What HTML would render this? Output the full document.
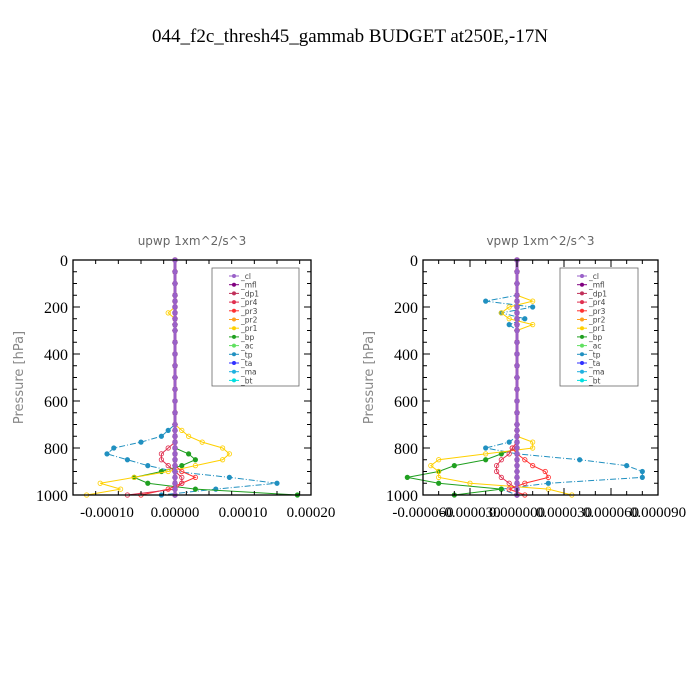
<!DOCTYPE html>
<html><head><meta charset="utf-8"><style>
body{margin:0;background:#fff;width:700px;height:700px;overflow:hidden}
svg{display:block}
</style></head><body>
<svg id="chart" width="700" height="700" viewBox="0 0 700 700" xmlns="http://www.w3.org/2000/svg">
<text x="350" y="42" text-anchor="middle" font-family="Liberation Serif, serif" font-size="19" fill="#000">044_f2c_thresh45_gammab  BUDGET at250E,-17N</text>
</svg>
<script>
// pressure levels (hPa)
const levels = [0,50,100,150,175,200,225,250,275,300,350,400,450,500,550,600,650,700,725,750,775,800,825,850,875,900,925,950,975,1000];
const seriesNames = ["_cl","_mfl","_dp1","_pr4","_pr3","_pr2","_pr1","_bp","_ac","_tp","_ta","_ma","_bt"];
const xTicksU = [-0.0001,0,0.0001,0.0002];
const xTickLabelsU = ["-0.00010","0.00000","0.00010","0.00020"];
const xTicksV = [-0.00006,-0.00003,0,0.00003,0.00006,0.00009];
const xTickLabelsV = ["-0.000060","-0.000030","0.000000","0.000030","0.000060","0.000090"];
const yTicks = [0,200,400,600,800,1000];
// upwp values (x1e-5), indexed by levels
const uTp  = [0,0,0,0,0,0,0,0,0,0,0,0,0,0,0,0,0,0,-1,-2,-5,-9,-10,-7,-4,0,8,15,6,-2];
const uPr1 = [0,0,0,0,0,0,-1,0,0,0,0,0,0,0,0,0,0,0,1,2,4,7,8,7,3,-1,-6,-11,-8,-13];
const uBp  = [0,0,0,0,0,0,0,0,0,0,0,0,0,0,0,0,0,0,0,0,0,0,2,3,1,-2,-6,-4,3,18];
const uPr4 = [0,0,0,0,0,0,0,0,0,0,0,0,0,0,0,0,0,0,0,0,0,-1,-2,-2,-1,0,1,1,0,-7];
const uPr3 = [0,0,0,0,0,0,0,0,0,0,0,0,0,0,0,0,0,0,0,0,0,0,0,0,0,1,3,1,-1,-5];
// vpwp values (x1e-5)
const vTp  = [0,0,0,0,-2,1,-1,0.5,-0.5,0,0,0,0,0,0,0,0,0,0,0,-0.5,-2,0,4,7,8,8,2,-1,0];
const vPr1 = [0,0,0,0,1,-0.5,-1,-0.5,1,0,0,0,0,0,0,0,0,0,0,0,1,1,-2,-5,-5.5,-5,-5,-3,2,3.5];
const vBp  = [0,0,0,0,0,0,0,0,0,0,0,0,0,0,0,0,0,0,0,0,0,0,-1,-2,-4,-5,-7,-5,-1,-4];
const vPr4 = [0,0,0,0,0,0,0,0,0,0,0,0,0,0,0,0,0,0,0,0,0,-0.3,-0.5,-1,-1.3,-1.3,-1,-0.5,0,0];
const vPr3 = [0,0,0,0,0,0,0,0,0,0,0,0,0,0,0,0,0,0,0,0,0,-0.3,0,0.5,1,1.8,2,0.5,-0.5,0.5];
const zeros = levels.map(()=>0);

const colors = {"_cl":"#9a60c8","_mfl":"#800080","_dp1":"#c0305a","_pr4":"#e03050","_pr3":"#ff3030","_pr2":"#ffa020","_pr1":"#ffd000","_bp":"#20a020","_ac":"#60e060","_tp":"#2090c0","_ta":"#3030ff","_ma":"#20b0e0","_bt":"#00e0e0"};
const NS="http://www.w3.org/2000/svg";
const svg=document.getElementById('chart');
function mk(tag,attrs,parent){const e=document.createElementNS(NS,tag);for(const k in attrs)e.setAttribute(k,attrs[k]);(parent||svg).appendChild(e);return e;}

function panel(cfg){
  const g=mk('g',{});
  
  
  const L=cfg.x0,R=cfg.x1,T=260,B=495;
  const xs=v=>L+(v-cfg.dmin)/(cfg.dmax-cfg.dmin)*(R-L);
  const ys=p=>T+p/1000*(B-T);
  const t=mk('text',{x:(L+R)/2,y:245,'text-anchor':'middle','font-family':'DejaVu Sans, sans-serif','font-size':'12',fill:'#666'},g);
  t.textContent=cfg.title;
  
  
  const yl=mk('text',{x:0,y:0,transform:`translate(${L-50},${(T+B)/2}) rotate(-90)`,'text-anchor':'middle','font-family':'DejaVu Sans, sans-serif','font-size':'13',fill:'#888'},g);
  yl.textContent='Pressure  [hPa]';
  
  
  // series
  const dat=cfg.data;
  const order=["_ma","_ta","_bt","_ac","_pr2","_tp","_bp","_pr1","_pr3","_pr4","_dp1","_mfl","_cl"];
  order.forEach(n=>{
    const vals=dat[n]||zeros;
    const pts=levels.map((p,i)=>xs(vals[i]*1e-5)+','+ys(p)).join(' ');
    const dash=(n==="_tp"||n==="_ma")?'6,2,1,2':'none';
    const pl=mk('polyline',{points:pts,fill:'none',stroke:colors[n],'stroke-width':(n==="_dp1"||n==="_cl"||n==="_mfl")?2.5:1,'stroke-dasharray':dash},g);
    
    
    levels.forEach((p,i)=>{
      const m=mk('circle',{cx:xs(vals[i]*1e-5),cy:ys(p),r:2.2,fill:(n==="_pr1"||n==="_pr4"||n==="_pr3")?'none':colors[n],stroke:colors[n],'stroke-width':0.8},g);
      
      
    });
  });
  // frame
  const fr=mk('rect',{x:L,y:T,width:R-L,height:B-T,fill:'none',stroke:'#000','stroke-width':1.3},g);
  
  
  for(let p=0;p<=1000;p+=50){
    const len=(p%200===0)?7:4;
    mk('line',{x1:L,x2:L+len,y1:ys(p),y2:ys(p),stroke:'#000'},g);
    mk('line',{x1:R,x2:R-len,y1:ys(p),y2:ys(p),stroke:'#000'},g);
  }
  yTicks.forEach(p=>{
    const tx=mk('text',{x:L-5,y:ys(p)+6,'text-anchor':'end','font-family':'Liberation Serif, serif','font-size':'16',fill:'#000'},g);
    tx.textContent=p;
    
    
  });
  const step=(cfg.ticks[1]-cfg.ticks[0])/3;
  for(let v=cfg.dmin;v<=cfg.dmax+1e-12;v+=step){
    const x=xs(v);
    const major=cfg.ticks.some(tk=>Math.abs(tk-v)<step/10);
    const len=major?7:4;
    mk('line',{x1:x,x2:x,y1:B,y2:B-len,stroke:'#000'},g);
    mk('line',{x1:x,x2:x,y1:T,y2:T+len,stroke:'#000'},g);
  }
  cfg.ticks.forEach((v,i)=>{
    const tx=mk('text',{x:xs(v),y:B+22,'text-anchor':'middle','font-family':'Liberation Serif, serif','font-size':cfg.tickFont,fill:'#000'},g);
    tx.textContent=cfg.tickLabels[i];
    
    
  });
  // legend
  const lg=mk('g',{},g);
  
  
  mk('rect',{x:cfg.lx,y:268,width:cfg.lw,height:118,fill:'#fff',stroke:'#666','stroke-width':0.8},lg);
  seriesNames.forEach((n,i)=>{
    const y=276+i*8.7;
    const e=mk('g',{},lg);
    
    
    mk('line',{x1:cfg.lx+17,x2:cfg.lx+27,y1:y,y2:y,stroke:colors[n],'stroke-width':1},e);
    mk('circle',{cx:cfg.lx+22,cy:y,r:2,fill:colors[n]},e);
    const tx=mk('text',{x:cfg.lx+29,y:y+3,'font-family':'DejaVu Sans, sans-serif','font-size':'7.5',fill:'#444'},e);
    tx.textContent=n;
  });
}
panel({name:'upwp-panel',title:'upwp    1xm^2/s^3',x0:73,x1:311,dmin:-0.00015,dmax:0.0002,ticks:xTicksU,tickLabels:xTickLabelsU,tickFont:15,lx:212,lw:87,
  data:{"_tp":uTp,"_pr1":uPr1,"_bp":uBp,"_pr4":uPr4,"_pr3":uPr3}});
panel({name:'vpwp-panel',title:'vpwp    1xm^2/s^3',x0:423,x1:658,dmin:-0.00006,dmax:0.00009,ticks:xTicksV,tickLabels:xTickLabelsV,tickFont:15,lx:560,lw:78,
  data:{"_tp":vTp,"_pr1":vPr1,"_bp":vBp,"_pr4":vPr4,"_pr3":vPr3}});
</script>
</body></html>
